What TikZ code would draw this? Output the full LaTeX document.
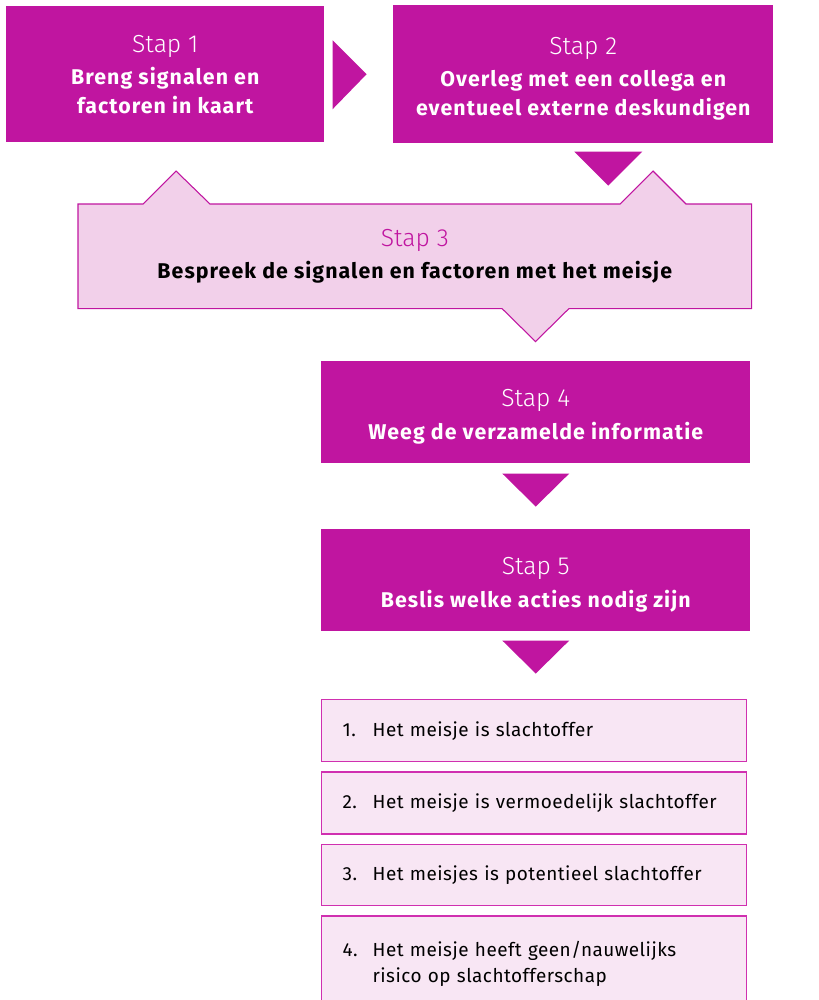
\documentclass[tikz,border=0pt]{standalone}
\usepackage{fontspec}
\setmainfont{Fira Sans}
\newfontfamily\stapfont{Fira Sans Light}
\newfontfamily\stapbody[LetterSpace=5]{Fira Sans}
\newfontfamily\itemfont[LetterSpace=2.5]{Fira Sans}
\usetikzlibrary{positioning}
\usetikzlibrary{calc}
\usetikzlibrary{backgrounds}

\definecolor{stapmagenta}{RGB}{192,21,160}
\definecolor{stappink}{RGB}{242,208,234}
\definecolor{itempink}{RGB}{248,230,244}
\definecolor{itemborder}{RGB}{208,48,176}

\newcommand{\staptitle}[2][white]{{\color{#1}\fontsize{18.5}{24}\selectfont\stapfont\mdseries #2}\\[3pt]}
\newcommand{\stapup}{\rule{0pt}{19.5pt}}
\newcommand{\itemnr}[1]{\makebox[22.5pt][l]{#1}}

\begin{document}
\begin{tikzpicture}[x=0.75pt,y=-0.75pt]
		\tikzstyle{stapbox} = [rectangle, fill=stapmagenta, text=white, align=center, anchor=north west, inner sep=0pt, font=\fontsize{16}{21.5}\selectfont\stapbody\bfseries]
		\tikzstyle{itembox} = [rectangle, fill=itempink, draw=itemborder, line width=1pt, align=left, anchor=north west, inner xsep=15.75pt, text width=287.25pt, font=\fontsize{14.2}{20}\selectfont\itemfont]
		\tikzstyle{pointer} = [fill=stapmagenta]

		\useasboundingbox (0,0) rectangle (818,1000);

		\node (stap1) [stapbox, minimum width=238.5pt, minimum height=102pt] at (6,6) {\staptitle{Stap 1}Breng signalen en \\ factoren in kaart};
		\node (stap2) [stapbox, minimum width=285pt, minimum height=103.5pt] at (393,5) {\staptitle{\stapup Stap 2}Overleg met een collega en \\ eventueel externe deskundigen};
		\node (stap3) [stapbox, fill=none, text=black, minimum width=504.75pt, minimum height=78pt] at (78,204) {\staptitle[stapmagenta]{Stap 3}Bespreek de signalen en factoren met het meisje};
		\node (stap4) [stapbox, minimum width=321.75pt, minimum height=76.5pt] at (321,361) {\staptitle{\stapup Stap 4}Weeg de verzamelde informatie};
		\node (stap5) [stapbox, minimum width=321.75pt, minimum height=76.5pt] at (321,529) {\staptitle{\stapup Stap 5}Beslis welke acties nodig zijn};

		\node (item1) [itembox, minimum height=46.5pt] at (321,699) {\itemnr{1.}Het meisje is slachtoffer};
		\node (item2) [itembox, minimum height=46.5pt, below=6.75pt of item1.south west, anchor=north west] {\itemnr{2.}Het meisje is vermoedelijk slachtoffer};
		\node (item3) [itembox, minimum height=46pt, below=6.75pt of item2.south west, anchor=north west] {\itemnr{3.}Het meisjes is potentieel slachtoffer};
		\node (item4) [itembox, minimum height=72pt, below=6.75pt of item3.south west, anchor=north west] {\itemnr{4.}Het meisje heeft geen/nauwelijks \\ \hspace*{22.5pt}risico op slachtofferschap};

		\begin{scope}[on background layer]
			\draw [fill=stappink, draw=stapmagenta, line width=0.8pt] (stap3.north west) -- ++(65,0) -- ++(33,-33) -- ++(34,33) -- ($(stap3.north west)+(542,0)$) -- ++(33,-33) -- ++(33,33) -- (stap3.north east) -- (stap3.south east) -- ($(stap3.south west)+(491,0)$) -- ++(-33.5,33) -- ++(-33.5,-33) -- (stap3.south west) -- cycle;
		\end{scope}

		\fill [pointer] ($(stap1.east)+(8,-34)$) -- ($(stap1.east)+(42,0)$) -- ($(stap1.east)+(8,35)$) -- cycle;
		\fill [pointer] ($(stap2.south)+(-9,8)$) -- ($(stap2.south)+(59,8)$) -- ($(stap2.south)+(25,42)$) -- cycle;
		\fill [pointer] ($(stap4.south)+(-33.5,10)$) -- ($(stap4.south)+(33.5,10)$) -- ($(stap4.south)+(0,43)$) -- cycle;
		\fill [pointer] ($(stap5.south)+(-33.5,9)$) -- ($(stap5.south)+(33.5,9)$) -- ($(stap5.south)+(0,42)$) -- cycle;
	\end{tikzpicture}
\end{document}
